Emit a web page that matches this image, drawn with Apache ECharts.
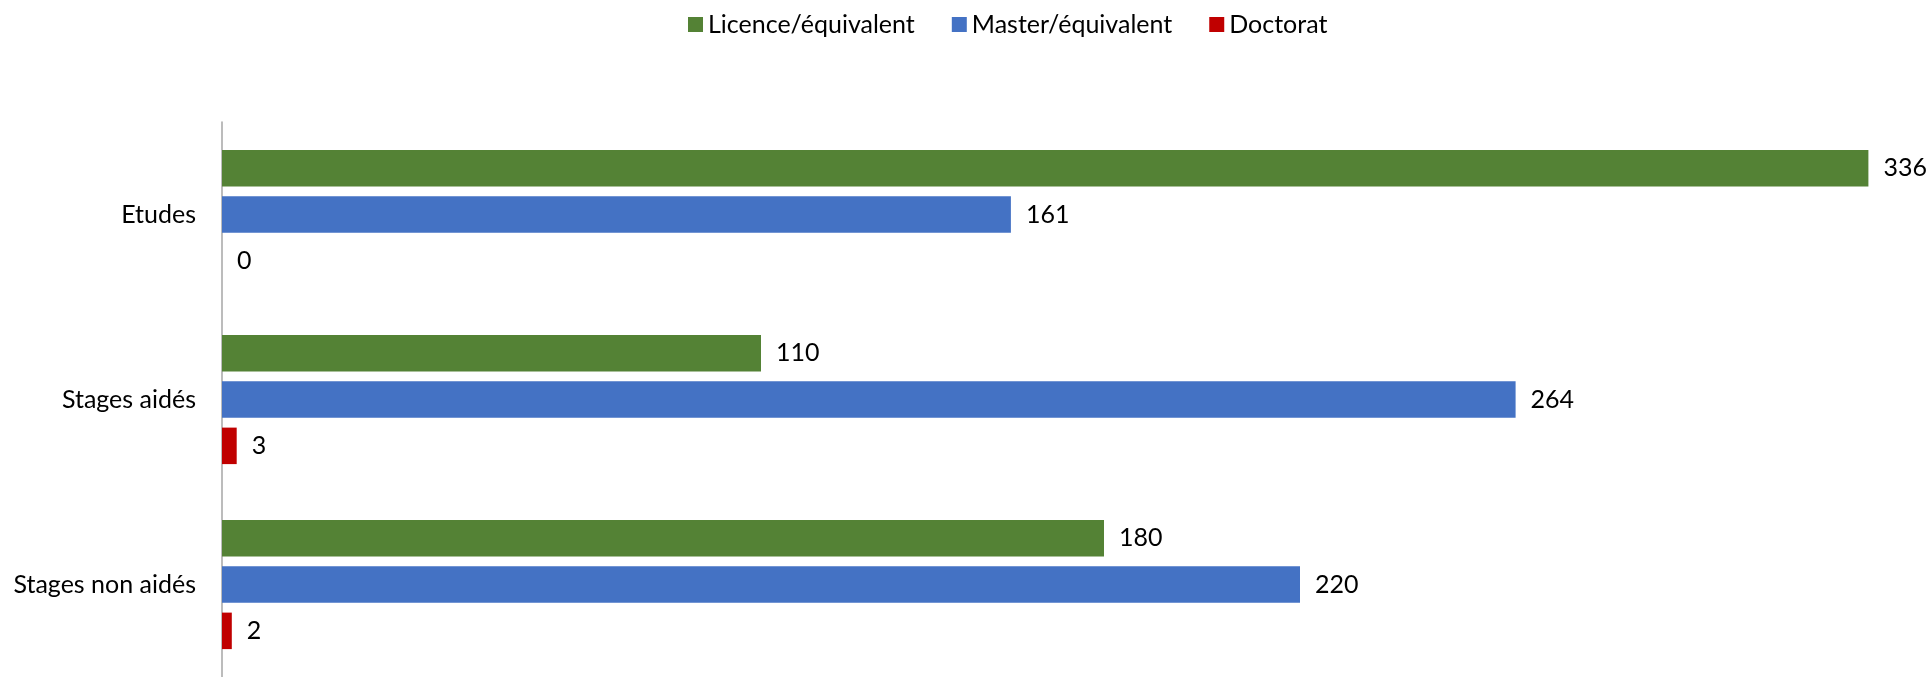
<!DOCTYPE html>
<html><head><meta charset="utf-8">
<script src="https://cdn.jsdelivr.net/npm/echarts@6/dist/echarts.min.js"></script>
<style>html,body{margin:0;padding:0;background:#fff}#c{width:1932px;height:677px}</style>
</head><body><div id="c"></div>
<script>
const categories = ['Etudes', 'Stages aidés', 'Stages non aidés'];
const seriesNames = ['Licence/équivalent', 'Master/équivalent', 'Doctorat'];
const licence = [336, 110, 180];
const master = [161, 264, 220];
const doctorat = [0, 3, 2];
const colors = ['#548235', '#4472C4', '#C00000'];
const FONT = 'Lato';

const chart = echarts.init(document.getElementById('c'), null, {renderer: 'canvas'});
const values = [licence, master, doctorat];
chart.setOption({
  animation: false,
  textStyle: {fontFamily: FONT},
  legend: {
    top: 7, left: 683, itemGap: 37, itemWidth: 15, itemHeight: 15,
    icon: 'rect',
    textStyle: {fontFamily: FONT, fontSize: 25, color: '#000'},
    data: seriesNames
  },
  grid: {left: 222, top: 122, width: 1666, height: 556, containLabel: false},
  xAxis: {type: 'value', min: 0, max: 340, show: false, splitLine: {show: false}},
  yAxis: {
    type: 'category', data: categories, inverse: true,
    axisLine: {show: true, lineStyle: {color: '#a6a6a6', width: 1.5}},
    axisTick: {show: false},
    axisLabel: {fontFamily: FONT, fontSize: 25, color: '#000', margin: 26}
  },
  series: seriesNames.map((n, i) => ({
    name: n, type: 'bar', data: values[i],
    barWidth: 36.5, barGap: '27%',
    itemStyle: {color: colors[i]},
    label: {show: true, position: 'right', distance: 15, fontFamily: FONT, fontSize: 25, color: '#000'}
  }))
});
</script></body></html>
